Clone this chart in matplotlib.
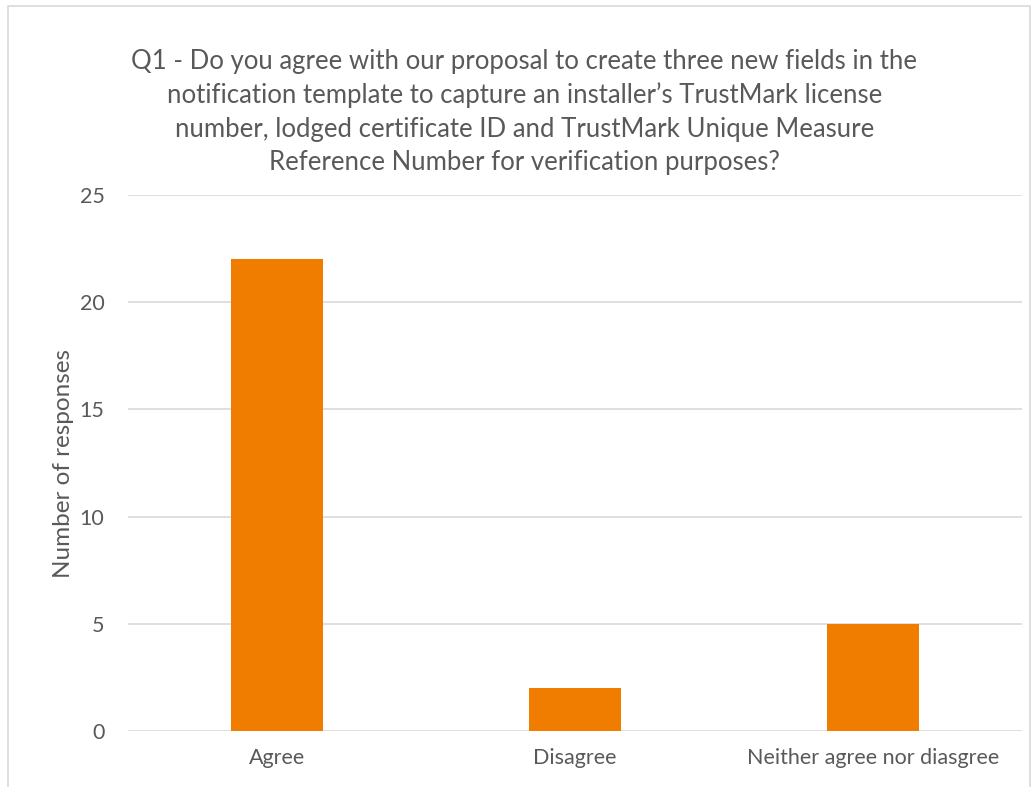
import matplotlib.pyplot as plt
from matplotlib.patches import Rectangle

categories = ["Agree", "Disagree", "Neither agree nor diasgree"]
responses = [22, 2, 5]
y_ticks = [0, 5, 10, 15, 20, 25]
title = ("Q1 - Do you agree with our proposal to create three new fields in the\n"
         "notification template to capture an installer\u2019s TrustMark license\n"
         "number, lodged certificate ID and TrustMark Unique Measure\n"
         "Reference Number for verification purposes?")

plt.rcParams['font.family'] = ['Lato', 'DejaVu Sans']
txt = '#595959'

fig = plt.figure(figsize=(10.36, 7.87), dpi=100)
# chart border like the Excel chart area
fig.patches.append(Rectangle((8 / 1036, -0.01), 1022 / 1036, 1 - 6 / 787 + 0.01,
                             transform=fig.transFigure, fill=False,
                             edgecolor='#D9D9D9', linewidth=1.2))

ax = fig.add_axes([128 / 1036, 1 - 731 / 787, 894 / 1036, (731 - 195) / 787])
x = range(len(categories))
ax.bar(x, responses, width=0.31, color='#F07C00', zorder=3)
ax.set_xlim(-0.5, 2.5)
ax.set_ylim(0, 25)
ax.set_yticks(y_ticks)
ax.set_xticks(list(x))
ax.set_xticklabels(categories)
ax.grid(axis='y', color='#D9D9D9', linewidth=1.2, zorder=0)
for s in ax.spines.values():
    s.set_visible(False)
ax.tick_params(length=0, labelsize=15.5, labelcolor=txt)
ax.tick_params(axis='y', pad=17)
ax.tick_params(axis='x', pad=12)
ax.set_ylabel('Number of responses', fontsize=17.5, color=txt, labelpad=4)

fig.text(0.506, 1 - 112 / 787, title, ha='center', va='center', fontsize=18.5,
         color=txt, linespacing=1.42)

plt.savefig('out.png', dpi=100)
